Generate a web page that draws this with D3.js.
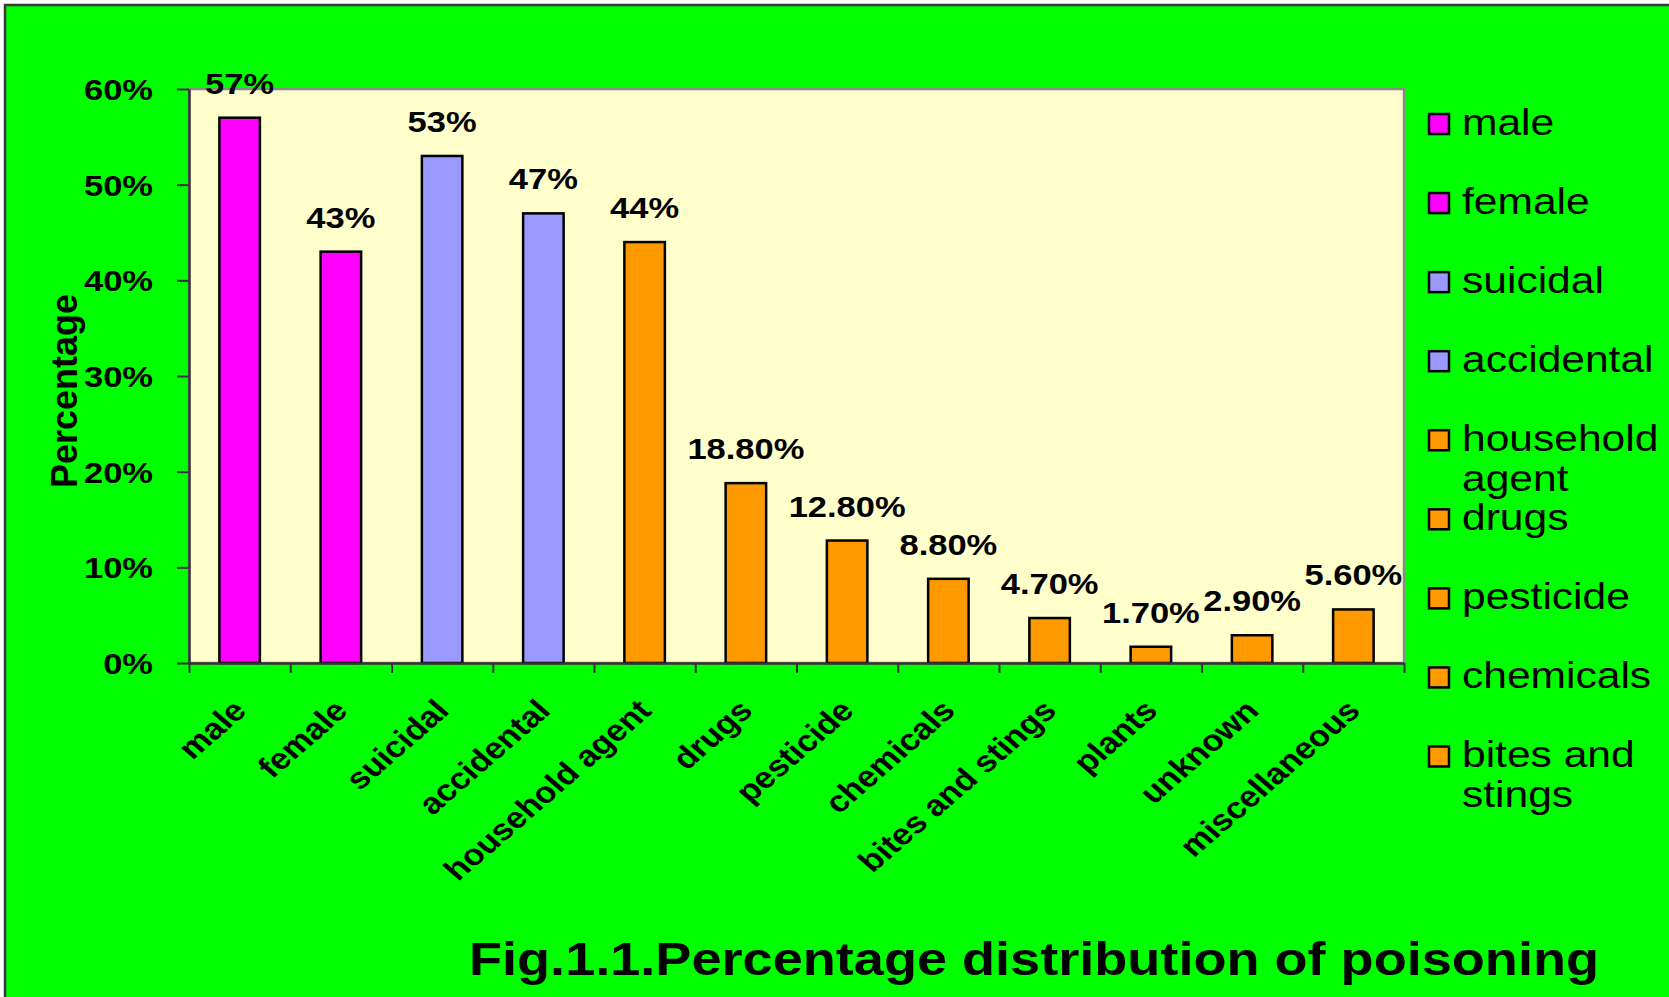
<!DOCTYPE html>
<html>
<head>
<meta charset="utf-8">
<script src="https://cdn.jsdelivr.net/npm/d3@7"></script>
<style>
  html, body { margin: 0; padding: 0; background: #ffffff; }
  svg { display: block; }
  text { font-family: Arial, "Liberation Sans", sans-serif; fill: #000; }
</style>
</head>
<body>
<svg id="chart" width="1669" height="997"></svg>
<script>
// Poisoning cases by sex, manner and agent (percent)
const categories = ["male", "female", "suicidal", "accidental", "household agent", "drugs",
  "pesticide", "chemicals", "bites and stings", "plants", "unknown", "miscellaneous"];
const values = [57, 43, 53, 47, 44, 18.8, 12.8, 8.8, 4.7, 1.7, 2.9, 5.6];
const valueLabels = ["57%", "43%", "53%", "47%", "44%", "18.80%", "12.80%", "8.80%",
  "4.70%", "1.70%", "2.90%", "5.60%"];
const groups = ["sex", "sex", "manner", "manner", "agent", "agent", "agent", "agent",
  "agent", "agent", "agent", "agent"];
const groupColors = { sex: "#FF00FF", manner: "#9999FF", agent: "#FF9900" };
const legendItems = ["male", "female", "suicidal", "accidental", "household agent",
  "drugs", "pesticide", "chemicals", "bites and stings"];
const yTicks = [0, 10, 20, 30, 40, 50, 60];
const yTitle = "Percentage";
const figTitle = "Fig.1.1.Percentage distribution of poisoning";

const W = 1669, H = 997;
const K = 1.15;          // horizontal stretch applied to chart lettering
const plot = { left: 189, top: 89, right: 1404, bottom: 663 };

const svg = d3.select("#chart");

// page background with frame
svg.append("rect").attr("x", 5).attr("y", 5).attr("width", W).attr("height", H)
  .attr("fill", "#00FF00").attr("stroke", "#3a3a3a").attr("stroke-width", 2.5);

const x = d3.scaleBand().domain(categories)
  .range([plot.left, plot.right]).paddingInner(0.6).paddingOuter(0.3);
const xEdge = d3.scaleLinear().domain([0, categories.length]).range([plot.left, plot.right]);
const y = d3.scaleLinear().domain([0, 60]).range([plot.bottom, plot.top]);

// plot area
svg.append("rect")
  .attr("x", plot.left).attr("y", plot.top)
  .attr("width", plot.right - plot.left).attr("height", plot.bottom - plot.top)
  .attr("fill", "#FFFFCC").attr("stroke", "#8a8a8a").attr("stroke-width", 2.5);

// bars
svg.append("g").selectAll("rect").data(categories).join("rect")
  .attr("x", d => x(d))
  .attr("y", (d, i) => y(values[i]))
  .attr("width", x.bandwidth())
  .attr("height", (d, i) => y(0) - y(values[i]))
  .attr("fill", (d, i) => groupColors[groups[i]])
  .attr("stroke", "#000").attr("stroke-width", 2.5);

// y axis
const yAxis = svg.append("g").attr("transform", `translate(${plot.left},0)`)
  .call(d3.axisLeft(y).tickValues(yTicks).tickSize(12).tickSizeOuter(0)
    .tickFormat(d => d + "%"));
yAxis.select(".domain").attr("stroke", "#333").attr("stroke-width", 2.5);
yAxis.selectAll(".tick line").attr("stroke", "#333").attr("stroke-width", 2);
yAxis.selectAll(".tick text")
  .attr("x", 0).attr("dy", "0.35em")
  .attr("transform", `translate(-36,0) scale(${K},1)`)
  .attr("text-anchor", "end")
  .style("font-size", "30px").style("font-weight", "bold");

// x axis: ticks between categories
const xAxis = svg.append("g").attr("transform", `translate(0,${plot.bottom})`)
  .call(d3.axisBottom(xEdge).tickValues(d3.range(categories.length + 1))
    .tickSize(10).tickSizeOuter(0).tickFormat(""));
xAxis.select(".domain").attr("stroke", "#333").attr("stroke-width", 2.5);
xAxis.selectAll(".tick line").attr("stroke", "#333").attr("stroke-width", 2);

// category labels, slanted
const xLabels = svg.append("g").attr("transform", `translate(0,${plot.bottom})`)
  .call(d3.axisBottom(x).tickSize(0).tickSizeOuter(0));
xLabels.select(".domain").remove();
xLabels.selectAll(".tick text")
  .attr("x", 0).attr("y", 0).attr("dy", "0.35em")
  .attr("transform", `translate(0,42) scale(${K},1) rotate(-45)`)
  .attr("text-anchor", "end")
  .style("font-size", "30px").style("font-weight", "bold");

// value labels
svg.append("g").selectAll("text").data(categories).join("text")
  .attr("transform", (d, i) =>
    `translate(${x(d) + x.bandwidth() / 2},${y(values[i]) - 24}) scale(${K},1)`)
  .attr("text-anchor", "middle")
  .style("font-size", "30px").style("font-weight", "bold")
  .text((d, i) => valueLabels[i]);

// y axis title
svg.append("text")
  .attr("transform", "translate(64,391) rotate(-90)")
  .attr("text-anchor", "middle").attr("dy", "0.35em")
  .style("font-size", "36px").style("font-weight", "bold")
  .text(yTitle);

// legend
const legendX = 1429, legendTop = 124, legendStep = 79.06, legendMaxW = 205;
const legend = svg.append("g");
legendItems.forEach((name, i) => {
  const cy = legendTop + i * legendStep;
  const color = groupColors[groups[categories.indexOf(name)]];
  legend.append("rect")
    .attr("x", legendX).attr("y", cy - 10).attr("width", 20).attr("height", 20)
    .attr("fill", color).attr("stroke", "#000").attr("stroke-width", 2.5);
  const t = legend.append("text")
    .attr("transform", `translate(${legendX + 33},${cy + 11}) scale(${K},1)`)
    .style("font-size", "37px");
  // wrap words onto lines that fit in the legend column
  const words = name.split(" ");
  let line = [], lineNo = 0;
  let tspan = t.append("tspan").attr("x", 0).attr("y", 0);
  words.forEach(w => {
    line.push(w);
    tspan.text(line.join(" "));
    if (tspan.node().getComputedTextLength() * K > legendMaxW && line.length > 1) {
      line.pop();
      tspan.text(line.join(" "));
      line = [w];
      lineNo += 1;
      tspan = t.append("tspan").attr("x", 0).attr("y", lineNo * 40).text(w);
    }
  });
});

// figure caption
svg.append("text")
  .attr("x", 469).attr("y", 975)
  .attr("textLength", 1130).attr("lengthAdjust", "spacingAndGlyphs")
  .style("font-size", "46px").style("font-weight", "bold")
  .text(figTitle);
</script>
</body>
</html>
